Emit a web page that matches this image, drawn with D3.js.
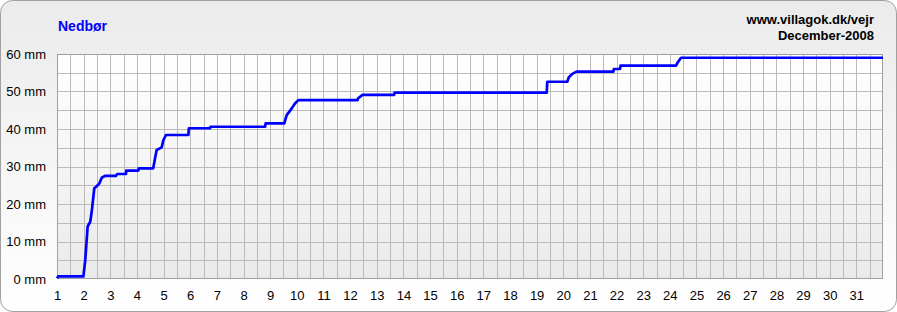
<!DOCTYPE html>
<html>
<head>
<meta charset="utf-8">
<script src="https://cdn.jsdelivr.net/npm/d3@7"></script>
<style>
  body { margin: 0; background: #fff; }
  text { font-family: Arial, "Liberation Sans", sans-serif; }
</style>
</head>
<body>
<svg id="chart" width="897" height="312"></svg>
<script>
// cumulative precipitation, December 2008 (day of month, mm)
const days = [1, 1.05, 1.99, 2.06, 2.15, 2.25, 2.31, 2.4, 2.5, 2.59, 2.68, 2.8,
  3.21, 3.26, 3.59, 3.6, 4.05, 4.07, 4.61, 4.68, 4.74, 4.93, 4.99, 5.09,
  5.93, 5.95, 6.74, 6.76, 8.81, 8.83, 9.53, 9.62, 9.81, 9.93, 10.06,
  12.28, 12.3, 12.47, 13.65, 13.67, 19.38, 19.4, 20.15, 20.21, 20.34, 20.5,
  21.88, 21.9, 22.13, 22.15, 24.23, 24.3, 24.42, 32];
const rain = [0.2, 0.7, 0.7, 5, 14, 15.3, 18.4, 24.2, 24.8, 25.5, 27, 27.5,
  27.5, 28, 28, 28.9, 28.9, 29.5, 29.5, 32.2, 34.4, 35.1, 37, 38.4,
  38.4, 40.2, 40.2, 40.6, 40.6, 41.5, 41.5, 43.7, 45.5, 46.8, 47.7,
  47.7, 48.2, 49.1, 49.1, 49.7, 49.7, 52.6, 52.6, 53.8, 54.7, 55.3,
  55.3, 56.0, 56.0, 56.9, 56.9, 57.8, 59.0, 59.0];
const yTicks = [0, 10, 20, 30, 40, 50, 60];
const xTicks = d3.range(1, 32);

const svg = d3.select("#chart");
const width = +svg.attr("width");
const height = +svg.attr("height");
const margin = { top: 54, right: 14, bottom: 33, left: 57 };
const chartWidth = width - margin.left - margin.right;
const chartHeight = height - margin.top - margin.bottom;

const defs = svg.append("defs");
const panelGrad = defs.append("linearGradient")
  .attr("id", "panelGrad").attr("x1", 0).attr("y1", 0).attr("x2", 0).attr("y2", 1);
panelGrad.append("stop").attr("offset", "0%").attr("stop-color", "#ebebeb");
panelGrad.append("stop").attr("offset", "100%").attr("stop-color", "#ffffff");
const plotGrad = defs.append("linearGradient")
  .attr("id", "plotGrad").attr("x1", 0).attr("y1", 0).attr("x2", 0).attr("y2", 1);
plotGrad.append("stop").attr("offset", "0%").attr("stop-color", "#ffffff");
plotGrad.append("stop").attr("offset", "100%").attr("stop-color", "#eaeaea");

// outer panel
svg.append("rect")
  .attr("x", 0.5).attr("y", 0.5)
  .attr("width", width - 1).attr("height", height - 1)
  .attr("rx", 12).attr("ry", 12)
  .attr("fill", "url(#panelGrad)")
  .attr("stroke", "#a0a0a0");

svg.append("text")
  .attr("x", 58).attr("y", 31)
  .attr("font-size", 14).attr("font-weight", "bold")
  .attr("fill", "#0000ff")
  .text("Nedbør");

svg.append("text")
  .attr("x", 874).attr("y", 24)
  .attr("text-anchor", "end")
  .attr("font-size", 13).attr("font-weight", "bold")
  .text("www.villagok.dk/vejr");

svg.append("text")
  .attr("x", 874).attr("y", 40)
  .attr("text-anchor", "end")
  .attr("font-size", 13).attr("font-weight", "bold")
  .text("December-2008");

const g = svg.append("g")
  .attr("transform", `translate(${margin.left},${margin.top})`);

const x = d3.scaleLinear().domain([1, 32]).range([0, chartWidth]);
const y = d3.scaleLinear().domain([0, 60]).range([chartHeight, 0]);

g.append("rect")
  .attr("width", chartWidth).attr("height", chartHeight)
  .attr("fill", "url(#plotGrad)");

// grid: half-day and 5 mm steps
g.append("g")
  .selectAll("line")
  .data(d3.range(1.5, 32, 0.5))
  .enter()
  .append("line")
  .attr("x1", (d) => Math.round(x(d)) + 0.5)
  .attr("x2", (d) => Math.round(x(d)) + 0.5)
  .attr("y1", 0).attr("y2", chartHeight)
  .attr("stroke", "#bababa");

g.append("g")
  .selectAll("line")
  .data(d3.range(5, 60, 5))
  .enter()
  .append("line")
  .attr("y1", (d) => Math.round(y(d)) + 0.5)
  .attr("y2", (d) => Math.round(y(d)) + 0.5)
  .attr("x1", 0).attr("x2", chartWidth)
  .attr("stroke", "#bababa");

g.append("rect")
  .attr("x", 0.5).attr("y", 0.5)
  .attr("width", chartWidth - 1).attr("height", chartHeight - 1)
  .attr("fill", "none")
  .attr("stroke", "#a0a0a0");

// axes (labels only)
const yAxis = g.append("g")
  .call(d3.axisLeft(y).tickValues(yTicks).tickSize(0).tickPadding(11)
    .tickFormat((d) => `${d} mm`));
yAxis.select(".domain").remove();
yAxis.selectAll("text").attr("font-size", 13).attr("fill", "#000")
  .attr("font-family", "Arial, 'Liberation Sans', sans-serif");

const xAxis = g.append("g")
  .attr("transform", `translate(0,${chartHeight})`)
  .call(d3.axisBottom(x).tickValues(xTicks).tickSize(0).tickPadding(12)
    .tickFormat(d3.format("d")));
xAxis.select(".domain").remove();
xAxis.selectAll("text").attr("font-size", 13).attr("fill", "#000")
  .attr("font-family", "Arial, 'Liberation Sans', sans-serif");

const line = d3.line()
  .x((d, i) => x(days[i]))
  .y((d) => y(d));

g.append("path")
  .datum(rain)
  .attr("d", line)
  .attr("fill", "none")
  .attr("stroke", "#0000ff")
  .attr("stroke-width", 2.7)
  .attr("stroke-linejoin", "round");
</script>
</body>
</html>
